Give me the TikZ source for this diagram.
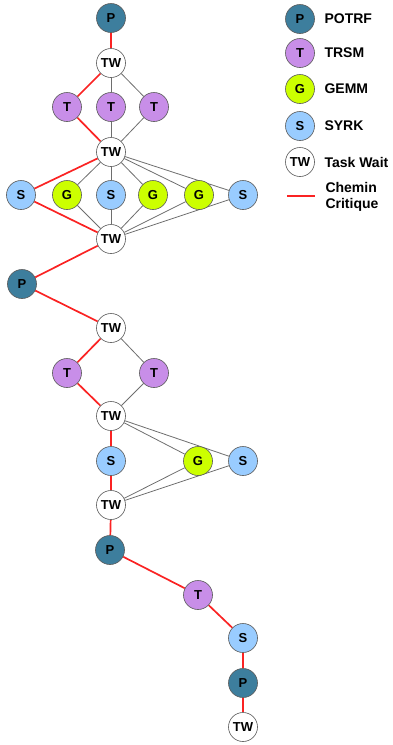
\documentclass[tikz,border=0pt]{standalone}
\usepackage{fontspec}
\setmainfont{Liberation Sans}
\usepackage{tikz}
\usetikzlibrary{backgrounds}

\definecolor{potrfblue}{RGB}{61, 126, 157}
\definecolor{trsmpurple}{RGB}{200, 142, 232}
\definecolor{gemmgreen}{RGB}{204, 255, 0}
\definecolor{syrkblue}{RGB}{153, 204, 255}
\definecolor{critred}{RGB}{250, 35, 35}
\definecolor{depgray}{RGB}{110, 110, 110}

\begin{document}
\begin{tikzpicture}[x=1pt, y=-1pt,
  task/.style={circle, draw=black!65, line width=0.6pt, minimum size=29pt, inner sep=0pt,
    font=\fontsize{13}{13}\selectfont\bfseries},
  potrf/.style={task, fill=potrfblue},
  trsm/.style={task, fill=trsmpurple},
  gemm/.style={task, fill=gemmgreen},
  syrk/.style={task, fill=syrkblue},
  tw/.style={task, fill=white},
  crit/.style={draw=critred, line width=1.7pt},
  dep/.style={draw=depgray, line width=0.8pt},
  legtext/.style={anchor=west, font=\fontsize{14}{16}\selectfont\bfseries}]

  \useasboundingbox (0,0) rectangle (392,745);

  % Step 1
  \node[potrf] (p1) at (111, 18) {P};
  \node[tw] (tw1) at (111, 63) {TW};
  \node[trsm] (t1) at (67, 107) {T};
  \node[trsm] (t2) at (111, 107) {T};
  \node[trsm] (t3) at (154, 107) {T};
  \node[tw] (tw2) at (111, 152) {TW};
  \node[syrk] (s1) at (21, 195) {S};
  \node[gemm] (g1) at (67, 195) {G};
  \node[syrk] (s2) at (111, 195) {S};
  \node[gemm] (g2) at (153, 195) {G};
  \node[gemm] (g3) at (199, 195) {G};
  \node[syrk] (s3) at (243, 195) {S};
  \node[tw] (tw3) at (111, 239) {TW};

  % Step 2
  \node[potrf] (p2) at (22, 284) {P};
  \node[tw] (tw4) at (111, 328) {TW};
  \node[trsm] (t4) at (67, 373) {T};
  \node[trsm] (t5) at (154, 373) {T};
  \node[tw] (tw5) at (111, 416) {TW};
  \node[syrk] (s4) at (111, 461) {S};
  \node[gemm] (g4) at (198, 461) {G};
  \node[syrk] (s5) at (243, 461) {S};
  \node[tw] (tw6) at (111, 505) {TW};

  % Step 3
  \node[potrf] (p3) at (110, 550) {P};
  \node[trsm] (t6) at (198, 595) {T};
  \node[syrk] (s6) at (243, 638) {S};
  \node[potrf] (p4) at (243, 683) {P};
  \node[tw] (tw7) at (243, 727) {TW};

  % Edges
  \begin{scope}[on background layer]
    \draw[dep] (tw1) -- (t2) -- (tw2);
    \draw[dep] (tw1) -- (t3) -- (tw2);
    \foreach \n in {g1, s2, g2, g3, s3}
      \draw[dep] (tw2) -- (\n) -- (tw3);
    \draw[dep] (tw4) -- (t5) -- (tw5);
    \draw[dep] (tw5) -- (g4) -- (tw6);
    \draw[dep] (tw5) -- (s5) -- (tw6);

    \draw[crit] (p1) -- (tw1) -- (t1) -- (tw2) -- (s1) -- (tw3) -- (p2)
      -- (tw4) -- (t4) -- (tw5) -- (s4) -- (tw6) -- (p3) -- (t6) -- (s6)
      -- (p4) -- (tw7);
  \end{scope}

  % Legend
  \node[potrf] (lp) at (300, 19) {P};
  \node[legtext] at (321, 19) {POTRF};
  \node[trsm] (lt) at (300, 53) {T};
  \node[legtext] at (321, 53) {TRSM};
  \node[gemm] (lg) at (300, 89) {G};
  \node[legtext] at (321, 89) {GEMM};
  \node[syrk] (ls) at (300, 126) {S};
  \node[legtext] at (321, 126) {SYRK};
  \node[tw] (ltw) at (300, 162) {TW};
  \node[legtext] at (321, 162) {Task Wait};
  \coordinate (lc1) at (287, 196);
  \coordinate (lc2) at (315, 196);
  \draw[crit, line width=1.5pt] (lc1) -- (lc2);
  \node[legtext, align=left] (lcrit) at (322, 197) {Chemin\\Critique};
\end{tikzpicture}
\end{document}
